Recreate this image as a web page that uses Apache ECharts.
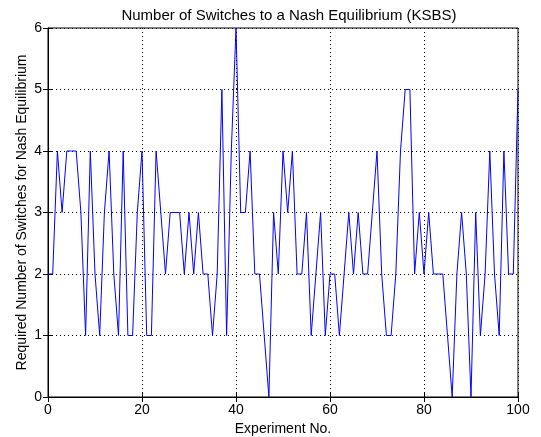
<!DOCTYPE html>
<html>
<head>
<meta charset="utf-8">
<script src="https://cdn.jsdelivr.net/npm/echarts@6/dist/echarts.min.js"></script>
<style>
html, body { margin: 0; padding: 0; background: #fff; }
#nash_lineID { width: 541px; height: 437px; }
</style>
</head>
<body>
<div id="nash_lineID"></div>
<script>
// switches needed per experiment, experiment no. 0..100
var nashExperimentArray = [];
for (var i = 0; i <= 100; i++) { nashExperimentArray.push(i); }
var nashSwitchArray = [2,2,4,3,4,4,4,3,1,4, 2,1,3,4,2,1,4,1,1,3, 4,1,1,4,3,2,3,3,3,2,
	3,2,3,2,2,1,2,5,1,4, 6,3,3,4,2,2,1,0,3,2, 4,3,4,2,2,3,1,2,3,1,
	2,2,1,2,3,2,3,2,2,3, 4,2,1,1,2,4,5,5,2,3, 2,3,2,2,2,1,0,2,3,2,
	0,3,1,2,4,2,1,4,2,2, 5];
var nashXTickArray = [0, 20, 40, 60, 80, 100];
var nashYTickArray = [0, 1, 2, 3, 4, 5, 6];
var nash_line_graphID = null;

function showCharts_Nash_Line(){
	var fontName = 'Liberation Sans';
	var seriesData = [];
	for (var k = 0; k < nashSwitchArray.length; k++) {
		seriesData.push([nashExperimentArray[k], nashSwitchArray[k]]);
	}
	var dotLine = { show: true, lineStyle: { color: '#000', width: 1, type: [1, 3] } };
	var tickIn = { show: true, inside: true, length: 5, lineStyle: { color: '#000' } };
	nash_line_graphID = echarts.init(document.getElementById('nash_lineID'));
	var option = {
		animation: false,
		backgroundColor: '#fff',
		textStyle: { fontFamily: fontName },
		title: {
			text: 'Number of Switches to a Nash Equilibrium (KSBS)',
			left: 284,
			top: 3,
			textAlign: 'center',
			textStyle: { fontSize: 15, fontWeight: 'normal', color: '#000', fontFamily: fontName }
		},
		grid: { left: 48, right: 23, top: 28, bottom: 40, show: true, borderColor: '#000', borderWidth: 1,
			outerBoundsMode: 'none', containLabel: false },
		xAxis: [{
			type: 'value', min: 0, max: 100, interval: 20,
			name: 'Experiment No.', nameLocation: 'middle', nameGap: 22,
			nameTextStyle: { fontSize: 14, color: '#000' },
			axisLine: { show: true, lineStyle: { color: '#000' } },
			axisTick: tickIn,
			axisLabel: { fontSize: 14, color: '#000', margin: 6,
				customValues: nashXTickArray },
			splitLine: dotLine
		}, {
			type: 'value', min: 0, max: 100, interval: 20, position: 'top',
			axisLine: { show: true, lineStyle: { color: '#000' } },
			axisTick: tickIn, axisLabel: { show: false }, splitLine: { show: false }
		}],
		yAxis: [{
			type: 'value', min: 0, max: 6, interval: 1,
			name: 'Required Number of Switches for Nash Equilibrium', nameLocation: 'middle', nameGap: 19,
			nameMoveOverlap: false,
			nameTextStyle: { fontSize: 14, color: '#000' },
			axisLine: { show: true, lineStyle: { color: '#000' } },
			axisTick: tickIn,
			axisLabel: { fontSize: 14, color: '#000', margin: 6,
				customValues: nashYTickArray },
			splitLine: dotLine
		}, {
			type: 'value', min: 0, max: 6, interval: 1, position: 'right',
			axisLine: { show: true, lineStyle: { color: '#000' } },
			axisTick: tickIn, axisLabel: { show: false }, splitLine: { show: false }
		}],
		series: [{
			name: 'switches',
			type: 'line',
			data: seriesData,
			showSymbol: false,
			symbol: 'none',
			lineStyle: { color: '#0000ff', width: 1 },
			z: 5
		}]
	};
	nash_line_graphID.setOption(option);
}
showCharts_Nash_Line();
</script>
</body>
</html>
